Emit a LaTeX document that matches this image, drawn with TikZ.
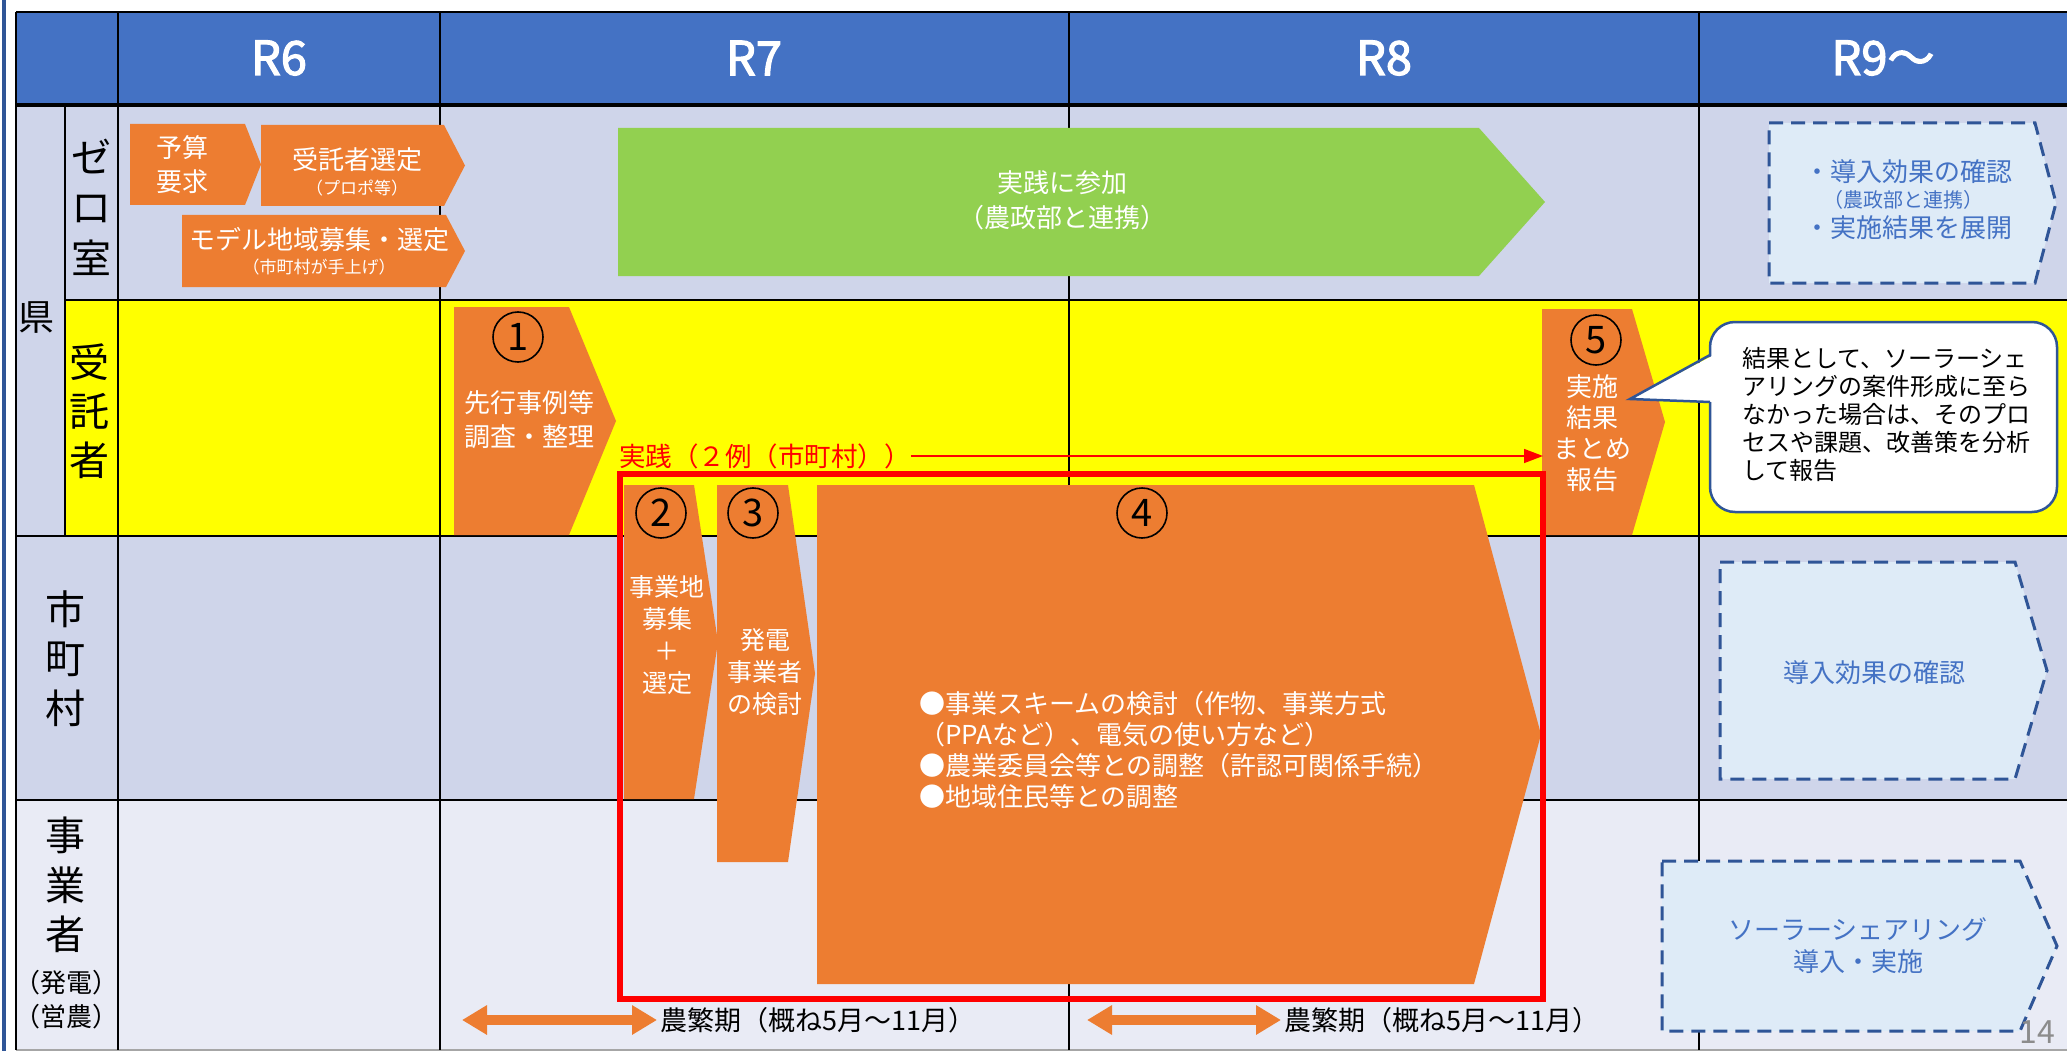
\documentclass[tikz,border=0pt]{standalone}
\usepackage{fontspec}
\setmainfont{Noto Sans CJK JP}[AutoFakeBold=2.5]
\usetikzlibrary{arrows.meta}
\definecolor{hdrblue}{HTML}{4472C4}
\definecolor{rowA}{HTML}{CFD5EA}
\definecolor{rowB}{HTML}{E9EBF5}
\definecolor{yel}{RGB}{255,255,0}
\definecolor{rd}{RGB}{255,0,0}
\definecolor{orng}{HTML}{ED7D31}
\definecolor{grn}{HTML}{92D050}
\definecolor{dkblue}{HTML}{2F5597}
\definecolor{dashfill}{HTML}{DEEBF7}
\definecolor{txtblue}{HTML}{4472C4}
\definecolor{pgray}{HTML}{8C8C8C}
\newcommand\fs[2]{\fontsize{#1}{#2}\selectfont}
\newcommand\chev[6]{\path[#1] (#2,#3) -- (#4,#3) -- (#6,{(#3+#5)/2}) -- (#4,#5) -- (#2,#5) -- cycle;}
\tikzset{
 gline/.style={black, line width=2.5pt},
 obox/.style={fill=orng},
 dbox/.style={fill=dashfill, draw=dkblue, line width=3pt, dash pattern=on 14pt off 8pt},
 wtxt/.style={text=white, align=center, inner sep=0pt},
 btxt/.style={text=txtblue, align=center, inner sep=0pt},
 ktxt/.style={text=black, align=center, inner sep=0pt},
 vlab/.style={text=black, inner sep=0pt, font=\fs{40}{44}},
 hdr/.style={text=white, inner sep=0pt, font=\fs{47}{50}\bfseries},
 circnum/.style={circle, draw=black, line width=1.6pt, minimum size=50pt, inner sep=0pt, font=\fs{38}{40}},
 farm/.style={orng, line width=10pt, {Triangle[length=25pt,width=28pt]}-{Triangle[length=25pt,width=28pt]}},
}
\begin{document}
\begin{tikzpicture}[x=1pt,y=-1pt]
\useasboundingbox (0,0) rectangle (2067,1051);
\fill[white] (0,0) rectangle (2067,1051);
\fill[dkblue] (2,0) rectangle (6,1051);
% backgrounds
\fill[hdrblue] (16,12) rectangle (2067,105);
\fill[rowA] (16,105) rectangle (65,536);
\fill[rowA] (65,105) rectangle (2067,300);
\fill[yel] (65,300) rectangle (2067,536);
\fill[rowA] (16,536) rectangle (2067,800);
\fill[rowB] (16,800) rectangle (2067,1050);
% grid
\draw[gline] (16,12) -- (2067,12);
\draw[gline, line width=4pt] (16,105) -- (2067,105);
\draw[gline] (65,300) -- (2067,300);
\draw[gline] (16,536) -- (2067,536);
\draw[gline] (16,800) -- (2067,800);
\draw[gray!70, line width=2pt] (16,1050) -- (2067,1050);
\foreach \x in {16,118,440,1069,1699} \draw[gline] (\x,12) -- (\x,1050);
\draw[gline] (65,105) -- (65,536);
% header
\node[hdr] (hR6) at (279,58) {R6};
\node[hdr] (hR7) at (754,58) {R7};
\node[hdr] (hR8) at (1384,58) {R8};
\node[hdr] (hR9) at (1883,58) {R9～};
% row labels
\node[ktxt, font=\fs{36}{40}] (lken) at (36,318) {県};
\node[vlab] (lz1) at (91,157) {ゼ};
\node[vlab] (lz2) at (91,209) {ロ};
\node[vlab] (lz3) at (91,258) {室};
\node[vlab] (lj1) at (89,362) {受};
\node[vlab] (lj2) at (89,411) {託};
\node[vlab] (lj3) at (89,460) {者};
\node[vlab] (ls1) at (65,609) {市};
\node[vlab] (ls2) at (65,659) {町};
\node[vlab] (ls3) at (65,708) {村};
\node[vlab] (le1) at (65,835) {事};
\node[vlab] (le2) at (65,885) {業};
\node[vlab] (le3) at (65,934) {者};
\node[ktxt, font=\fs{26}{34}] (ljig2) at (66,1000) {（発電）\\（営農）};
% zero-shitsu row
\chev{obox}{130}{124}{245}{205}{261}
\node[wtxt, font=\fs{26}{34}] (tyosan) at (182,165) {予算\\要求};
\chev{obox}{261}{125}{444}{206}{465}
\node[wtxt, font=\fs{26}{30}] (tsentei) at (357,160) {受託者選定};
\node[wtxt, font=\fs{17}{20}] (tpropo) at (357,188) {（プロポ等）};
\chev{obox}{182}{215}{446}{287}{465}
\node[wtxt, font=\fs{26}{30}] (tmodel) at (319,240) {モデル地域募集・選定};
\node[wtxt, font=\fs{17}{20}] (tteage) at (319,267) {（市町村が手上げ）};
\chev{fill=grn}{618}{128}{1479}{276}{1545}
\node[wtxt, font=\fs{26}{35}] (tsanka) at (1062,200) {実践に参加\\（農政部と連携）};
\chev{dbox}{1769}{123}{2035}{283}{2056}
\node[btxt, font=\fs{26}{30}] (tdon1) at (1908,172) {・導入効果の確認};
\node[btxt, font=\fs{20}{22}] (tdon2) at (1903,200) {（農政部と連携）};
\node[btxt, font=\fs{26}{30}] (tdon3) at (1908,228) {・実施結果を展開};
% jutakusha row
\chev{obox}{454}{307}{569}{535}{616}
\node[circnum] (c1) at (518,337) {1};
\node[wtxt, font=\fs{26}{34}] (t1) at (529,420) {先行事例等\\調査・整理};
% steps 2-4
\chev{obox}{624}{485}{694}{799}{718}
\node[circnum] (c2) at (661,513) {2};
\node[wtxt, font=\fs{25}{32}] (t2) at (667,635) {事業地\\募集\\＋\\選定};
\chev{obox}{717}{485}{788}{862}{815}
\node[circnum] (c3) at (753,513) {3};
\node[wtxt, font=\fs{25}{32}] (t3) at (765,672) {発電\\事業者\\の検討};
\chev{obox}{817}{485}{1474}{984}{1541}
\node[circnum] (c4) at (1142,513) {4};
\node[text=white, align=left, inner sep=0pt, anchor=west, font=\fs{26}{31}] (t4) at (919,750)
 {●事業スキームの検討（作物、事業方式\\（PPAなど）、電気の使い方など）\\●農業委員会等との調整（許認可関係手続）\\●地域住民等との調整};
% step 5
\chev{obox}{1542}{309}{1632}{535}{1665}
\node[circnum] (c5) at (1596,340) {5};
\node[wtxt, font=\fs{26}{31}] (t5) at (1592,433) {実施\\結果\\まとめ\\報告};
% red frame and arrow
\draw[rd, line width=6pt] (620,474) rectangle (1543,999);
\node[text=rd, inner sep=0pt, anchor=west, font=\fs{26.5}{30}] (jissen) at (619,456) {実践（２例（市町村））};
\coordinate (b5w) at (1543,456);
\draw[rd, line width=1.5pt, -{Triangle[length=19pt,width=14pt]}] (jissen.east) -- (b5w);
% callout
\draw[draw=dkblue, fill=white, line width=2.5pt, rounded corners=25pt] (1710,322) rectangle (2057,512);
\fill[white] (1714,355) -- (1630,399) -- (1714,402) -- cycle;
\draw[dkblue, line width=2.5pt, line join=miter] (1710,355) -- (1630,399) -- (1710,402);
\node[text=black, align=left, inner sep=0pt, anchor=west, font=\fs{24}{28}] (tcall) at (1742,414)
 {結果として、ソーラーシェ\\アリングの案件形成に至ら\\なかった場合は、そのプロ\\セスや課題、改善策を分析\\して報告};
% R9 dashed boxes
\chev{dbox}{1720}{562}{2015}{779}{2047}
\node[btxt, font=\fs{26}{30}] (tdon4) at (1874,673) {導入効果の確認};
\chev{dbox}{1662}{861}{2020}{1031}{2057}
\node[btxt, font=\fs{26}{32}] (tsolar) at (1858,946) {ソーラーシェアリング\\導入・実施};
% farm season arrows
\coordinate (fa1) at (462,1020);
\coordinate (fb1) at (657,1020);
\draw[farm] (fa1) -- (fb1);
\node[ktxt, anchor=west, font=\fs{27}{30}] (tfarm1) at (660,1020) {農繁期（概ね5月～11月）};
\coordinate (fa2) at (1087,1020);
\coordinate (fb2) at (1281,1020);
\draw[farm] (fa2) -- (fb2);
\node[ktxt, anchor=west, font=\fs{27}{30}] (tfarm2) at (1284,1020) {農繁期（概ね5月～11月）};
% page number
\node[text=pgray, inner sep=0pt, font=\fs{32}{34}] (pnum) at (2037,1032) {14};
\end{tikzpicture}
\end{document}
